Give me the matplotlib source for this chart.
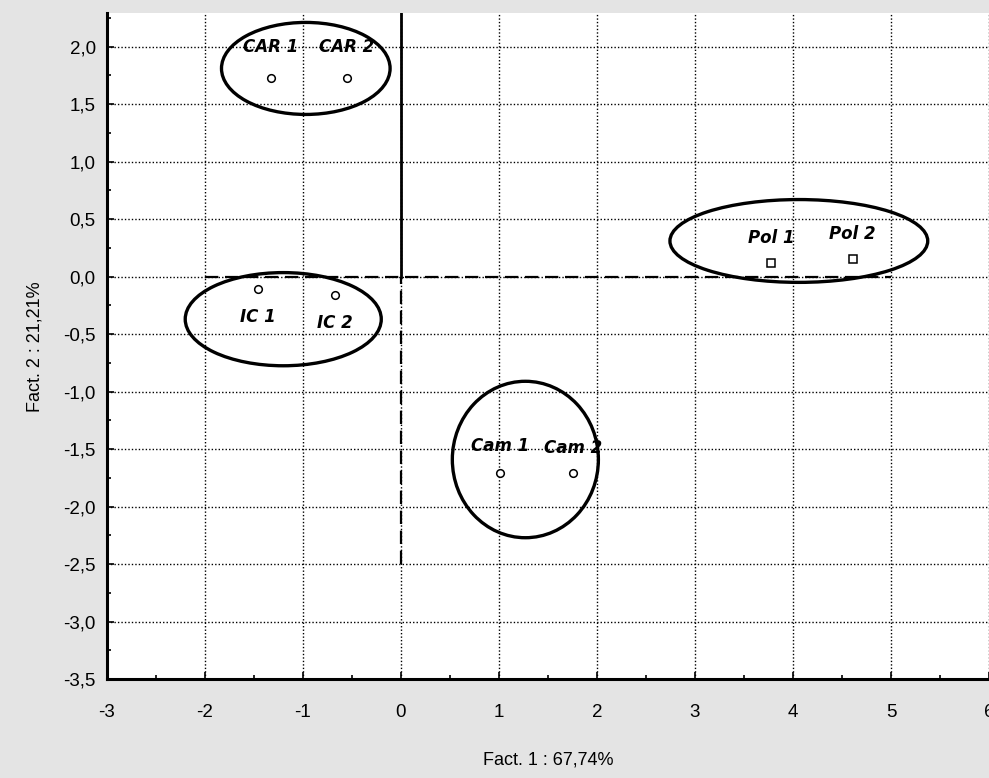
import matplotlib.pyplot as plt
from matplotlib.patches import Ellipse
from matplotlib.ticker import MultipleLocator, FuncFormatter

# sample scores on the first two factors
labels = ["CAR 1", "CAR 2", "IC 1", "IC 2", "Pol 1", "Pol 2", "Cam 1", "Cam 2"]
fact1 = [-1.33, -0.55, -1.46, -0.67, 3.78, 4.61, 1.01, 1.76]
fact2 = [1.73, 1.73, -0.11, -0.16, 0.12, 0.15, -1.71, -1.71]
markers = ["o", "o", "o", "o", "s", "s", "o", "o"]
label_dy = [22, 22, -20, -20, 18, 18, 20, 18]

# group ellipses: centre x, centre y, width, height
ell_x = [-0.97, -1.20, 4.06, 1.27]
ell_y = [1.81, -0.37, 0.31, -1.59]
ell_w = [1.72, 2.00, 2.63, 1.49]
ell_h = [0.80, 0.81, 0.72, 1.36]

plt.rcParams['font.family'] = ['Liberation Sans', 'DejaVu Sans']

fig = plt.figure(figsize=(9.89, 7.78), dpi=100, facecolor="#e4e4e4")
ax = fig.add_axes([0.108, 0.127, 0.892, 0.856])
ax.set_facecolor("white")

ax.set_xlim(-3, 6)
ax.set_ylim(-3.5, 2.29)
ax.xaxis.set_major_locator(MultipleLocator(1))
ax.xaxis.set_minor_locator(MultipleLocator(0.5))
ax.yaxis.set_major_locator(MultipleLocator(0.5))
ax.yaxis.set_minor_locator(MultipleLocator(0.25))
ax.xaxis.set_major_formatter(FuncFormatter(lambda v, p: f"{v:.0f}"))
ax.yaxis.set_major_formatter(FuncFormatter(lambda v, p: f"{v:.1f}".replace(".", ",")))
ax.grid(True, which="major", color="black", linestyle=(0, (1, 1.5)), linewidth=1)
ax.set_axisbelow(True)
ax.tick_params(which="both", direction="in", width=1.2, labelsize=13.5)
ax.tick_params(which="major", length=5)
ax.tick_params(which="minor", length=3)
ax.tick_params(axis="x", pad=18)
ax.tick_params(axis="y", pad=8)

for s in ["top", "right"]:
    ax.spines[s].set_visible(False)
for s in ["left", "bottom"]:
    ax.spines[s].set_linewidth(2.2)

# zero lines
ax.plot([0, 0], [0, 2.29], color="black", linewidth=2)
ax.plot([0, 0], [-2.5, 0], color="black", linewidth=1.6, linestyle=(0, (6, 3)))
ax.plot([-2, 5], [0, 0], color="black", linewidth=1.6, linestyle=(0, (6, 3)))

for cx, cy, w, h in zip(ell_x, ell_y, ell_w, ell_h):
    ax.add_patch(Ellipse((cx, cy), w, h, fill=False, edgecolor="black", linewidth=2.4))

for x, y, m, lab, dy in zip(fact1, fact2, markers, labels, label_dy):
    ax.plot(x, y, marker=m, markersize=5.5, markerfacecolor="white",
            markeredgecolor="black", markeredgewidth=1.1)
    ax.annotate(lab, (x, y), xytext=(0, dy), textcoords="offset points",
                ha="center", va="center", fontsize=12, fontweight="bold",
                fontstyle="italic", family=["DejaVu Sans"])

ax.set_xlabel("Fact. 1 : 67,74%", fontsize=13, labelpad=22)
ax.set_ylabel("Fact. 2 : 21,21%", fontsize=13, labelpad=14)

fig.savefig("out.png", dpi=100, facecolor=fig.get_facecolor())
